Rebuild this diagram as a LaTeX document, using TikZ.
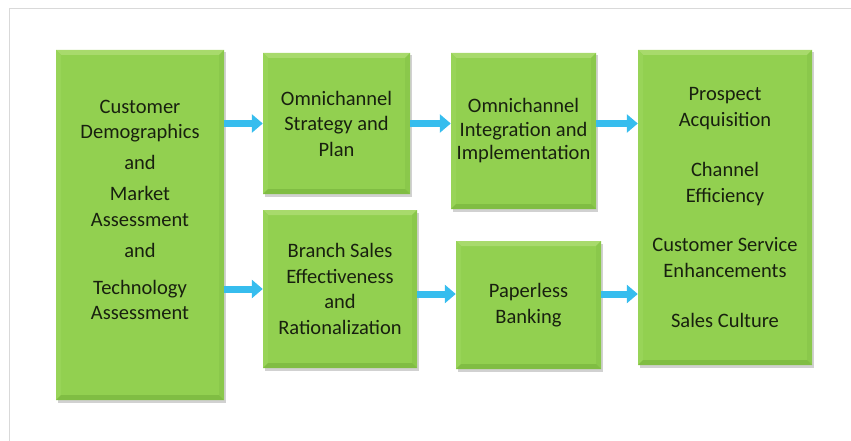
\documentclass[tikz,border=0pt]{standalone}
\usepackage{fontspec}
\setmainfont{Carlito}
\usepackage{xcolor}
\usepackage{tikz}
\usetikzlibrary{arrows.meta, positioning, shadows, calc}
\definecolor{leaf}{HTML}{92D050}
\definecolor{leaflight}{HTML}{A8DA6C}
\definecolor{leafside}{HTML}{98D458}
\definecolor{leafedge}{HTML}{8AC84B}
\definecolor{leafdark}{HTML}{80BD43}
\definecolor{ink}{HTML}{18200F}
\definecolor{sky}{HTML}{36BDEE}
\definecolor{framegray}{HTML}{D9D9D9}

\newcommand{\ppb}{path picture bounding box}

\tikzset{
  greenbox/.style={fill=leaf, text=ink, align=center, inner sep=0pt,
    font=\fontsize{20.5}{25.5}\selectfont,
    drop shadow={shadow xshift=1.5pt, shadow yshift=-2.5pt, opacity=.3, fill=black!60},
    path picture={
      \fill[leaflight] (\ppb.north west) -- (\ppb.north east) -- ([shift={(-5pt,-5pt)}]\ppb.north east) -- ([shift={(5pt,-5pt)}]\ppb.north west) -- cycle;
      \fill[leafside] (\ppb.north west) -- ([shift={(5pt,-5pt)}]\ppb.north west) -- ([shift={(5pt,5pt)}]\ppb.south west) -- (\ppb.south west) -- cycle;
      \fill[leafedge] (\ppb.north east) -- ([shift={(-5pt,-5pt)}]\ppb.north east) -- ([shift={(-5pt,5pt)}]\ppb.south east) -- (\ppb.south east) -- cycle;
      \fill[leafdark] (\ppb.south west) -- ([shift={(5pt,5pt)}]\ppb.south west) -- ([shift={(-5pt,5pt)}]\ppb.south east) -- (\ppb.south east) -- cycle;
    }},
  flow/.style={line width=7pt, draw=sky, -{Triangle[length=11pt, width=18pt]}},
}

\begin{document}
\begin{tikzpicture}[x=1pt, y=-1pt]
  \useasboundingbox (0,0) rectangle (851,441);
  \draw[framegray, line width=1pt] (9.5,441) -- (9.5,9) -- (851,9);

  \node[greenbox, minimum width=168pt, minimum height=350pt] (demo) at (140,225)
    {Customer\\Demographics\\[5pt]and\\[6pt]Market\\Assessment\\[6pt]and\\[11pt]Technology\\Assessment\\[5pt]\mbox{}};
  \node[greenbox, minimum width=147pt, minimum height=141pt] (strat) at (336.5,123.5)
    {Omnichannel\\Strategy and\\Plan};
  \node[greenbox, minimum width=145pt, minimum height=156pt] (integ) at (523.5,131)
    {Omnichannel\\[-2pt]Integration and\\[-2pt]Implementation};
  \node[greenbox, minimum width=174pt, minimum height=315pt] (gain) at (725,207.5)
    {Prospect\\Acquisition\\[25pt]Channel\\Efficiency\\[24pt]Customer Service\\Enhancements\\[25pt]Sales Culture};
  \node[greenbox, minimum width=154pt, minimum height=158pt] (branch) at (340,289)
    {Branch Sales\\Effectiveness\\and\\Rationalization};
  \node[greenbox, minimum width=145pt, minimum height=128pt] (paper) at (528.5,305)
    {Paperless\\Banking};

  \draw[flow] (demo.east |- strat.west) -- (strat.west);
  \draw[flow] (strat.east) -- (strat.east -| integ.west);
  \draw[flow] (integ.east |- strat.east) -- (gain.west |- strat.east);
  \draw[flow] (demo.east |- branch.west) -- (branch.west);
  \coordinate (low) at ([yshift=-5pt]branch.east);
  \draw[flow] (low) -- (low -| paper.west);
  \draw[flow] (low -| paper.east) -- (low -| gain.west);
\end{tikzpicture}
\end{document}
